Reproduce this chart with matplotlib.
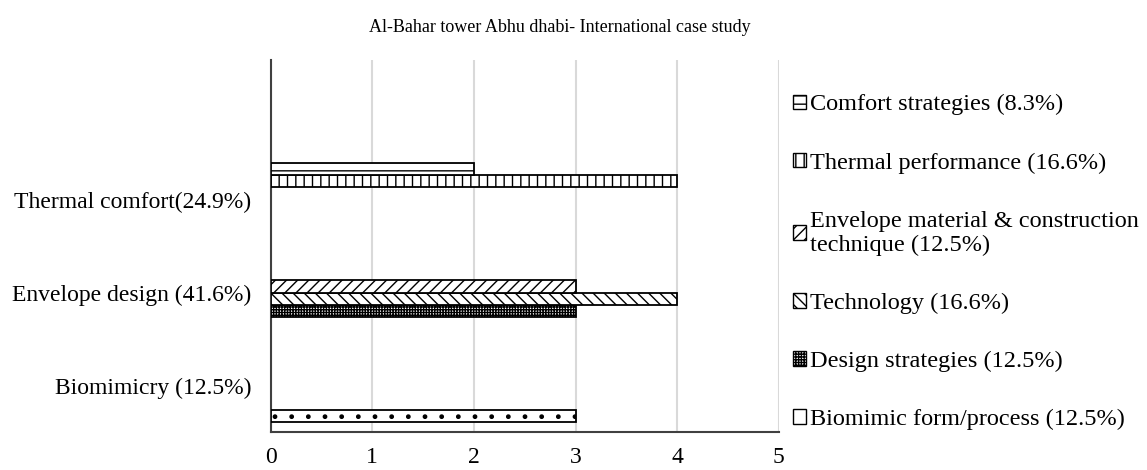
import numpy as np
import matplotlib.pyplot as plt
from matplotlib.patches import Patch

plt.rcParams['font.family'] = ['Liberation Serif', 'DejaVu Serif']
plt.rcParams['hatch.linewidth'] = 1.0

categories = ["Biomimicry (12.5%)", "Envelope design (41.6%)", "Thermal comfort(24.9%)"]
series = ["Biomimic form/process (12.5%)",
          "Design strategies (12.5%)",
          "Technology (16.6%)",
          "Envelope material & construction\ntechnique (12.5%)",
          "Thermal performance (16.6%)",
          "Comfort strategies (8.3%)"]
biomimic_form = [3, 0, 0]
design_strategies = [0, 3, 0]
technology = [0, 4, 0]
envelope_material = [0, 3, 0]
thermal_performance = [0, 0, 4]
comfort_strategies = [0, 0, 2]
values = [biomimic_form, design_strategies, technology,
          envelope_material, thermal_performance, comfort_strategies]
hatches = ['.', '++++++', '\\\\\\', '///', '||', '--']

fig = plt.figure(figsize=(11.47, 4.70), dpi=100)
ax = fig.add_axes([0.236, 0.081, 0.443, 0.791])

y = np.arange(len(categories))
h = 0.132
handles = []
for i, (name, vals, hat) in enumerate(zip(series, values, hatches)):
    # zero values get no bar at all (otherwise an edge line shows at x=0)
    w = np.where(np.array(vals) == 0, np.nan, vals)
    ax.barh(y + (i - 2.5) * h, w, height=h, color='white',
            edgecolor='black', linewidth=1.3, hatch=hat, zorder=3)
    handles.append(Patch(facecolor='white', edgecolor='black', hatch=hat, linewidth=1.0))

ax.set_xlim(0, 5)
ax.set_ylim(-0.5, 3.5)
ax.set_xticks(range(6))
ax.set_yticks(y)
ax.set_yticklabels(categories)
ax.tick_params(axis='both', length=0, labelsize=17)
ax.tick_params(axis='y', pad=14)
ax.tick_params(axis='x', pad=11)
ax.grid(axis='x', color='#d9d9d9', linewidth=1.5, zorder=0)
for s in ['top', 'right']:
    ax.spines[s].set_visible(False)
ax.spines['left'].set_color('#404040')
ax.spines['bottom'].set_color('#404040')
ax.spines['left'].set_linewidth(1.5)
ax.spines['bottom'].set_linewidth(1.5)

fig.text(0.488, 0.932, "Al-Bahar tower Abhu dhabi- International case study",
         ha='center', fontsize=13)

fig.legend(handles[::-1], series[::-1], loc='upper left',
           bbox_to_anchor=(0.672, 0.846), frameon=False, fontsize=17.5,
           handlelength=0.55, handleheight=0.55, handletextpad=0.15,
           labelspacing=1.52)

fig.savefig('out.png', dpi=100)
